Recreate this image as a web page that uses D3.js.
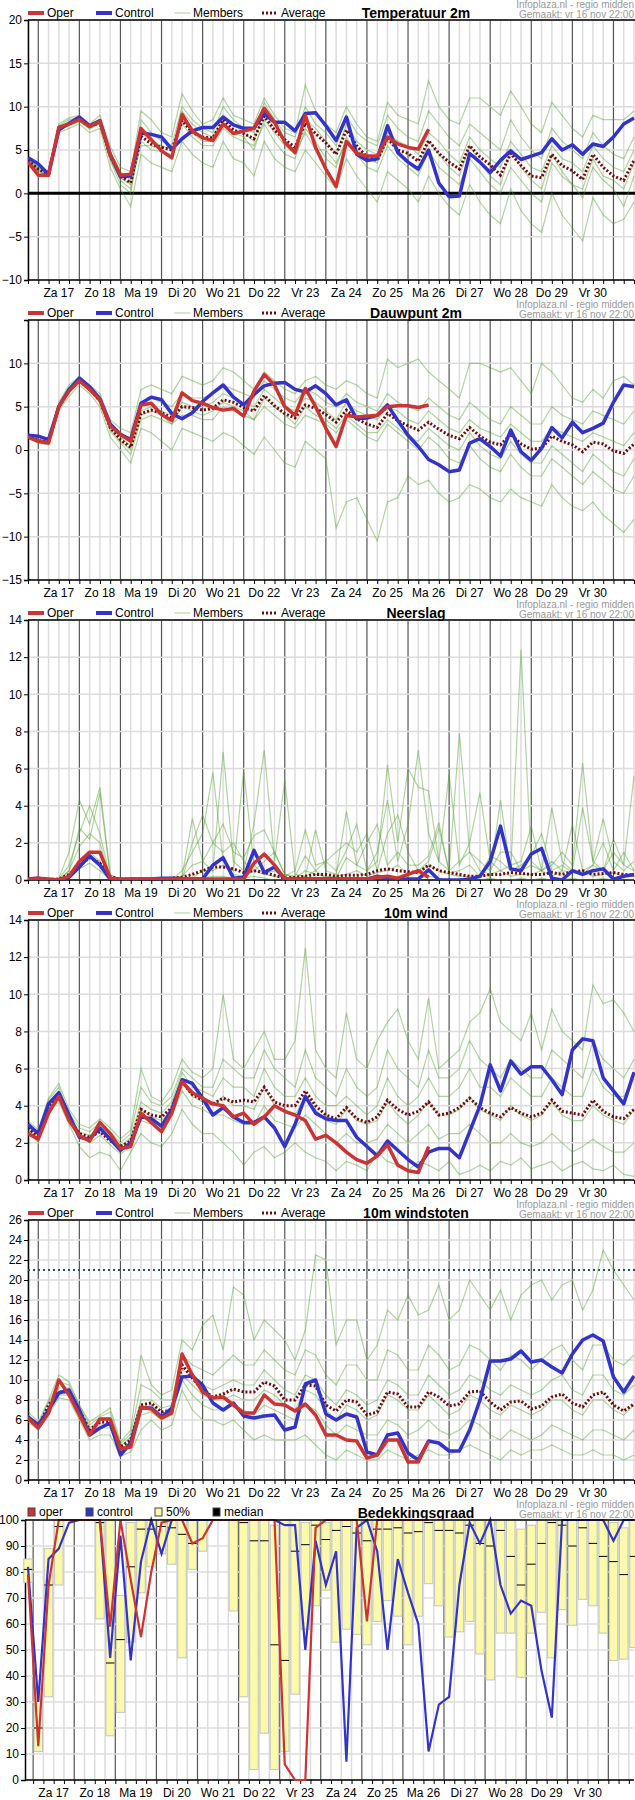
<!DOCTYPE html>
<html><head><meta charset="utf-8">
<script src="https://cdn.jsdelivr.net/npm/d3@7"></script>
<style>body{margin:0;background:#fff}svg{display:block;font-family:"Liberation Sans",Arial,sans-serif}</style>
</head><body><svg id="c" width="635" height="1800"></svg>
<script>
const days=["Za 17","Zo 18","Ma 19","Di 20","Wo 21","Do 22","Vr 23","Za 24","Zo 25","Ma 26","Di 27","Wo 28","Do 29","Vr 30"];
const titles=["Temperatuur 2m","Dauwpunt 2m","Neerslag","10m wind","10m windstoten","Bedekkingsgraad"];
const yDomains=[[-10,20],[-15,15],[0,14],[0,14],[0,26],[0,100]];
const yTicks=[[-10,-5,0,5,10,15,20],[-15,-10,-5,0,5,10],[0,2,4,6,8,10,12,14],[0,2,4,6,8,10,12,14],[0,2,4,6,8,10,12,14,16,18,20,22,24,26],[0,10,20,30,40,50,60,70,80,90,100]];

const tempOper=[3.6,2.1,2.1,7.6,8.0,8.5,7.7,8.3,4.5,2.1,2.2,7.5,6.2,4.9,4.1,9.1,7.2,6.4,6.1,8.0,6.9,7.2,7.5,9.8,8.2,5.9,4.7,9.0,5.3,2.8,0.8,6.0,4.6,4.3,4.3,6.5,5.7,5.3,5.1,7.4];
const tempControl=[4.1,3.4,2.2,7.3,8.1,8.8,7.8,8.4,4.5,1.9,2.0,7.0,6.8,6.5,5.1,6.3,7.2,7.6,7.6,8.8,7.9,7.5,7.5,9.2,8.2,8.2,7.2,9.2,9.3,7.8,6.1,8.8,4.5,3.8,4.0,7.8,4.7,3.6,2.8,5.0,1.2,-0.4,-0.3,4.6,3.6,2.4,3.8,4.9,3.9,4.3,4.7,6.3,5.0,5.6,4.5,5.7,5.4,6.5,8.0,8.7];
const tempAverage=[3.8,2.8,2.2,7.5,8.0,8.5,7.7,8.2,4.3,2.0,1.2,6.6,5.7,5.3,5.0,8.4,7.0,6.5,6.4,8.5,7.3,6.9,6.3,8.9,7.3,6.2,5.3,8.1,6.9,5.8,4.5,7.3,5.5,4.2,3.8,6.4,5.0,4.6,3.7,6.1,4.6,3.6,2.8,5.5,4.2,3.3,2.1,4.6,3.2,2.0,1.8,4.5,3.2,2.6,1.6,4.5,3.0,2.0,1.5,3.8];
const tempMembers=[
[4.0,3.0,2.3,8.0,8.7,9.0,8.0,9.0,5.5,3.0,2.5,9.5,8.5,7.0,6.5,11.5,9.5,8.0,8.5,11.0,9.0,8.5,8.0,11.0,9.0,7.5,7.0,12.5,9.5,8.0,7.0,10.0,8.0,6.5,6.0,10.5,9.0,8.5,8.0,13.0,10.0,8.5,8.0,11.0,11.0,10.0,9.0,11.8,10.0,8.0,7.0,10.5,9.0,7.5,6.5,9.0,8.5,8.5,8.5,9.5],
[3.5,2.5,1.9,7.0,7.5,8.0,7.0,7.5,3.0,0.5,-1.5,4.5,3.5,3.0,2.5,6.0,4.5,3.5,3.0,6.0,4.0,3.5,2.0,6.0,4.0,3.0,2.5,5.0,3.5,2.0,0.5,4.0,2.0,0.5,-1.0,2.5,1.5,0.5,-1.0,2.0,0.0,-1.5,-2.5,1.0,-1.0,-2.5,-3.5,0.5,-2.0,-3.5,-4.5,0.0,-2.5,-4.0,-5.5,-0.5,-2.5,-3.5,-3.0,-1.0],
[3.8,2.7,2.0,7.6,8.2,8.6,7.6,8.0,4.0,1.5,0.5,6.0,5.0,4.8,4.5,9.5,8.0,7.0,6.5,9.0,8.0,7.0,6.0,9.5,7.5,6.0,5.0,8.5,7.5,6.0,4.5,8.0,6.0,5.0,4.5,7.0,6.0,5.5,4.5,7.0,6.0,4.5,3.5,6.5,5.0,4.0,3.0,6.0,4.5,3.0,2.5,5.5,4.0,3.5,2.5,5.5,4.0,3.0,2.5,5.0],
[3.9,2.9,2.1,7.3,7.8,8.3,7.4,8.1,3.8,1.0,0.0,7.0,6.0,5.5,5.0,8.0,6.5,5.5,5.5,7.5,6.5,6.0,5.5,8.0,6.0,4.5,4.0,7.5,6.0,4.0,3.0,6.5,4.5,3.0,2.5,5.5,4.0,3.0,2.0,5.0,3.0,2.0,1.0,4.0,2.5,1.0,0.0,3.0,1.5,0.0,-1.0,3.5,2.0,1.0,-0.5,3.0,1.5,0.5,-1.5,2.0],
[3.7,2.6,2.0,7.8,8.5,8.8,7.9,8.4,4.8,2.5,1.5,8.5,7.0,6.0,5.5,10.0,8.5,7.5,7.0,10.0,8.5,7.5,7.0,10.5,8.5,7.0,6.5,10.0,8.0,7.0,5.5,9.0,7.0,6.0,5.5,9.0,7.5,6.5,6.0,9.5,8.0,6.5,5.5,8.0,7.0,6.0,5.0,8.5,6.5,5.0,4.0,7.5,6.0,5.0,4.0,7.0,5.5,4.5,4.0,6.5],
[3.6,2.8,2.2,7.5,8.0,8.4,7.7,8.2,4.2,1.8,1.0,5.5,5.5,5.0,4.0,8.5,7.0,6.0,6.0,8.0,7.0,6.5,5.0,8.5,7.0,5.5,4.5,7.0,5.0,5.0,3.5,6.0,5.0,4.0,3.5,6.0,5.0,3.5,2.5,6.0,4.5,3.0,2.0,5.5,3.5,2.0,1.0,5.0,3.0,1.5,0.5,4.5,2.5,1.0,0.5,4.0,2.0,1.5,0.5,3.5]];

const dewOper=[1.5,1.0,0.8,5.0,6.8,8.0,7.0,5.8,2.8,1.8,1.0,5.2,5.4,4.1,3.4,6.6,5.7,5.4,4.9,4.6,4.8,3.9,6.8,8.7,7.5,5.0,4.0,7.1,5.0,2.5,0.4,4.0,3.8,3.9,4.0,5.0,5.1,5.1,4.9,5.2];
const dewControl=[1.7,1.6,1.2,5.0,7.0,8.3,7.3,5.9,3.0,1.8,1.2,5.4,6.1,5.8,4.2,3.6,4.3,5.6,6.6,7.5,6.1,5.2,6.4,7.4,7.7,7.8,7.0,6.7,7.4,6.5,5.2,5.8,3.6,3.7,4.0,5.2,3.4,1.7,0.4,-1.1,-1.7,-2.5,-2.3,0.8,1.3,0.4,-0.7,2.3,-0.2,-1.2,0.2,2.6,1.4,3.2,2.0,2.5,3.1,5.5,7.5,7.3];
const dewAverage=[1.6,1.1,0.9,5.0,6.9,8.0,7.0,5.7,2.6,1.2,0.3,4.2,4.6,4.3,3.7,5.0,4.9,4.6,4.8,5.8,5.5,4.9,4.5,6.3,5.1,4.2,3.7,5.2,4.8,4.1,3.2,4.6,3.6,3.0,2.6,4.2,3.4,2.8,2.3,3.2,2.4,1.7,1.3,2.6,1.6,0.9,0.6,1.8,0.7,0.1,0.2,1.6,1.0,0.6,-0.2,0.9,0.7,-0.1,-0.4,0.7];
const dewMembers=[
[1.8,1.5,1.2,5.5,7.5,8.5,7.5,6.5,3.5,2.5,2.0,7.0,7.5,7.0,6.5,8.5,8.0,7.5,8.0,9.5,9.0,8.0,7.0,9.0,8.0,7.0,6.5,8.0,8.5,7.5,7.0,8.0,7.5,6.5,6.0,10.5,9.5,10.0,10.5,9.0,8.0,7.0,6.0,10.0,10.0,9.5,9.0,9.5,8.0,6.5,10.0,9.0,7.5,6.0,5.5,7.0,6.0,8.0,8.5,7.5],
[1.4,0.8,0.6,4.5,6.2,7.5,6.5,5.0,1.5,0.0,-1.5,2.5,2.0,1.0,0.0,2.5,2.0,1.5,1.0,2.0,1.5,0.5,-0.5,1.5,0.0,-1.5,-2.0,1.0,0.0,-1.0,-9.0,-6.0,-5.5,-8.0,-10.5,-6.0,-5.5,-3.0,-4.0,-3.5,-5.0,-6.0,-5.5,-4.0,-4.5,-5.5,-6.0,-4.5,-5.5,-6.0,-6.5,-4.0,-5.5,-6.5,-7.0,-6.0,-7.5,-8.5,-9.5,-8.0],
[1.6,1.2,0.9,5.0,7.0,8.2,7.2,6.0,2.8,1.5,0.5,4.5,5.0,4.5,4.0,5.5,5.0,5.0,5.5,6.5,6.0,5.5,5.0,7.0,6.0,5.0,4.5,6.0,5.5,4.5,3.5,5.5,4.5,4.0,3.5,5.0,4.5,3.5,3.0,4.5,3.5,2.5,2.0,3.5,2.5,2.0,1.5,3.0,2.0,1.0,1.0,2.5,2.0,1.5,1.0,2.0,1.5,1.0,0.5,2.0],
[1.5,1.0,0.8,4.8,6.8,7.8,6.8,5.5,2.2,0.8,-0.5,3.5,4.0,3.5,3.0,4.0,4.0,3.5,3.5,5.0,4.5,4.0,3.5,5.0,4.0,3.0,2.5,4.0,3.5,3.0,2.0,3.5,2.5,1.5,1.0,3.0,2.0,1.0,0.0,1.5,0.5,-1.0,-1.5,0.5,-1.0,-2.0,-2.5,-0.5,-2.0,-3.0,-3.0,-1.0,-2.0,-3.0,-4.0,-2.5,-3.5,-4.5,-5.0,-3.0],
[1.7,1.3,1.0,5.2,7.2,8.3,7.1,6.2,3.2,2.0,1.0,5.5,6.0,5.5,5.0,6.5,6.0,6.0,6.5,7.5,7.0,6.5,6.0,8.0,7.0,6.0,5.5,7.0,6.5,5.5,5.0,6.5,5.5,5.0,4.5,6.5,5.5,5.0,4.5,6.0,5.0,4.0,3.5,5.5,4.5,3.5,3.0,5.0,4.0,3.0,3.0,5.0,4.0,3.5,3.0,4.5,4.0,3.5,3.0,4.5],
[1.5,1.1,0.8,4.9,6.9,8.0,7.0,5.6,2.5,1.0,0.0,4.0,4.5,4.0,3.0,5.0,4.5,4.0,4.5,5.5,5.0,4.5,3.5,6.0,5.0,4.0,3.0,5.0,4.0,3.5,2.5,4.0,3.0,2.0,2.0,3.5,2.5,1.5,1.0,2.5,1.5,0.5,0.0,2.0,0.5,-0.5,-1.0,1.0,-0.5,-1.5,-1.5,0.5,-0.5,-1.5,-2.5,-0.5,-1.5,-2.5,-3.0,-1.0]];

const rainOper=[0.05,0.1,0.05,0.0,0.2,1.0,1.5,1.5,0.1,0.05,0.05,0.05,0.05,0.05,0.05,0.05,0.05,0.05,0.05,0.05,0.05,0.05,0.9,1.4,0.8,0.05,0.05,0.05,0.05,0.05,0.05,0.05,0.05,0.05,0.15,0.2,0.1,0.3,0.5,0.15];
const rainControl=[0.05,0.1,0.0,0.0,0.15,0.7,1.3,0.8,0.05,0.0,0.05,0.05,0.05,0.1,0.1,0.05,0.05,0.05,0.8,1.2,0.1,0.15,1.6,0.4,0.7,0.05,0.05,0.05,0.05,0.05,0.05,0.05,0.05,0.05,0.2,0.1,0.05,0.05,0.05,0.55,0.0,0.0,0.0,0.05,0.2,1.0,2.9,0.6,0.5,1.4,1.7,0.1,0.0,0.5,0.3,0.5,0.6,0.05,0.2,0.3];
const rainAverage=[0.05,0.05,0.03,0.05,0.3,0.8,1.2,0.9,0.2,0.05,0.03,0.03,0.03,0.05,0.1,0.15,0.3,0.5,0.7,0.7,0.6,0.4,0.5,0.4,0.25,0.1,0.15,0.2,0.3,0.3,0.2,0.25,0.25,0.3,0.5,0.6,0.5,0.45,0.4,0.8,0.5,0.4,0.3,0.2,0.2,0.3,0.3,0.4,0.35,0.3,0.3,0.4,0.3,0.45,0.5,0.3,0.35,0.4,0.3,0.25];
const rainMembers=[
[0,0.1,0,0.1,1.5,4.3,3.0,5.0,0.3,0,0,0,0,0,0.1,0.2,3.3,1.0,0.5,6.9,1.0,0.5,3.0,7.0,1.0,5.4,0.3,0.2,2.7,0.5,0.3,3.7,0.8,0.5,1.0,6.2,2.0,6.0,5.0,4.8,1.0,0.5,7.9,1.5,0.5,0.3,4.3,0.5,12.4,1.0,0.5,3.9,1.0,0.5,3.9,1.0,0.5,2.2,0.8,5.6],
[0,0.05,0,0.05,0.8,2.5,4.0,2.5,0.1,0,0,0,0,0,0,0.5,1.5,2.5,5.8,1.0,0.5,5.9,0.8,0.3,0.5,0.2,0.5,2.7,0.8,1.0,0.5,1.6,3.0,0.5,1.5,4.3,1.0,3.0,7.0,2.5,1.0,5.7,0.8,2.0,4.7,1.0,0.5,0.8,1.0,2.9,0.5,0.8,1.5,0.8,6.3,1.0,3.3,1.0,0.5,1.0],
[0,0,0,0,0.5,1.8,2.5,2.0,0.05,0,0,0,0,0,0,0.2,0.8,1.0,2.0,3.0,1.5,1.2,2.4,2.7,1.5,0.3,0.1,0.5,0.3,0.2,0.1,1.2,0.8,2.0,3.0,0.8,1.5,0.8,0.8,1.3,3.1,0.4,0.5,0.8,0.2,1.3,1.0,0.5,0.8,1.3,2.5,0.5,0.8,0.4,0.3,0.8,2.0,0.5,1.5,0.5],
[0,0,0,0,0.3,1.0,1.5,1.0,0.05,0,0,0,0,0,0,0,0.1,0.5,0.5,0.8,0.3,0.2,0.5,0.3,0.2,0.1,0.1,0.2,0.5,0.1,0.2,0.3,0.5,0.2,0.4,0.5,0.8,0.3,0.4,0.8,0.5,0.3,0.2,0.2,0.2,0.3,0.5,0.2,0.3,0.3,0.5,0.2,0.5,0.4,0.5,0.2,0.3,0.4,0.2,0.2],
[0,0,0,0.05,0.2,0.6,0.9,0.5,0,0,0,0,0,0,0,0,0,0.1,0.2,0.2,0.1,0.1,0.2,0.1,0,0,0,0,0,0,0,0,0.1,0,0.1,0.2,0.1,0,0.1,0.2,0.1,0,0,0,0,0.1,0,0,0.1,0,0.1,0,0,0.1,0,0,0.1,0,0,0],
[0,0,0,0,0.5,2.8,2.2,4.7,0.2,0,0,0,0,0,0,0,2.0,3.5,2.0,1.5,2.0,1.0,0.5,1.0,1.5,0.3,0.2,1.3,0.5,1.0,1.5,2.0,1.5,2.5,0.5,2.5,3.5,1.5,0.5,1.0,2.8,0.5,1.0,1.5,1.0,0.5,1.5,1.5,0.5,0.8,0.5,1.0,0.5,3.0,0.5,0.8,0.5,1.5,0.8,0.5]];

const windOper=[2.5,2.2,3.6,4.5,3.2,2.4,2.1,3.1,2.5,1.7,1.8,3.6,3.1,2.6,3.6,5.3,4.7,4.4,4.1,4.0,3.4,3.6,3.0,3.4,4.0,3.7,3.5,3.2,2.2,2.4,2.0,1.5,1.1,0.9,1.3,1.9,0.8,0.5,0.4,1.8];
const windControl=[3.0,2.5,4.1,4.7,3.5,2.3,2.2,2.8,2.2,1.6,2.0,3.4,3.3,2.9,3.8,5.4,5.2,4.4,3.5,3.9,3.4,3.1,3.1,3.4,2.8,1.8,3.0,4.5,3.6,3.3,3.2,3.2,2.3,1.8,1.3,2.1,1.6,1.1,0.7,1.5,1.7,1.7,1.2,2.6,4.0,6.2,4.8,6.4,5.7,6.1,6.1,5.4,4.6,7.0,7.6,7.5,5.5,4.8,4.1,5.8];
const windAverage=[2.8,2.3,4.0,4.5,3.3,2.5,2.3,2.6,2.1,1.8,2.1,3.8,3.5,3.4,3.9,5.3,4.6,4.3,4.1,4.4,4.2,4.3,4.2,5.0,4.2,4.0,4.0,4.8,4.0,3.5,3.3,3.9,3.3,3.1,3.4,4.3,3.8,3.5,3.7,4.2,3.5,3.6,3.9,4.4,3.9,3.6,3.4,3.9,3.6,3.4,3.6,4.3,3.7,3.6,3.5,4.3,3.7,3.4,3.3,3.8];
const windMembers=[
[3.2,2.7,4.4,5.2,3.8,3.0,2.8,3.3,2.8,2.2,2.7,6.0,4.5,4.2,5.0,6.5,5.8,5.5,6.0,10.0,6.5,6.0,7.0,8.0,6.5,6.5,7.5,12.5,7.0,6.0,5.5,9.0,6.5,6.0,7.5,8.5,9.2,7.5,6.5,9.8,6.0,6.5,7.0,8.5,9.0,10.3,8.5,8.0,7.5,9.0,7.0,9.2,8.0,7.5,7.0,10.5,9.5,9.7,9.0,8.0],
[2.6,2.0,3.8,4.2,3.0,1.8,1.2,1.5,1.3,0.5,1.5,2.5,2.0,1.8,2.5,3.8,3.0,2.5,2.5,2.0,1.5,0.8,1.5,1.8,1.2,1.5,2.0,1.5,1.2,1.0,0.5,1.0,0.8,0.5,1.5,1.0,0.8,0.5,1.0,0.8,0.5,1.0,0.3,0.5,0.8,0.5,1.0,0.8,1.2,0.6,0.8,1.0,0.5,0.8,1.0,0.6,0.5,0.8,0.3,0.2],
[2.9,2.4,4.1,4.6,3.4,2.6,2.4,2.9,2.3,1.8,2.3,4.2,3.8,3.6,4.2,5.8,5.0,4.8,4.5,5.5,5.0,5.0,4.5,6.0,5.0,4.5,4.5,5.5,4.5,4.0,4.0,4.5,4.0,3.5,4.0,5.5,4.5,4.0,4.5,5.5,4.5,4.5,5.0,6.0,5.0,5.0,4.5,5.5,5.0,4.5,4.5,5.5,5.0,4.5,4.5,6.0,5.0,4.5,4.5,5.5],
[2.7,2.2,3.9,4.4,3.2,2.3,2.0,2.4,1.9,1.4,1.8,3.2,3.0,2.8,3.5,4.8,4.0,3.8,3.5,3.5,3.2,3.0,3.0,4.0,3.2,3.0,2.8,3.5,3.0,2.5,2.0,2.5,2.0,2.0,2.2,3.0,2.5,2.0,2.5,3.0,2.2,2.5,2.5,3.0,2.5,2.0,2.0,2.5,2.0,1.8,2.0,2.5,2.0,1.5,1.8,2.2,1.8,1.5,1.5,2.0],
[3.0,2.5,4.3,5.0,3.6,2.8,2.6,3.1,2.6,2.0,2.5,5.0,4.2,4.0,4.5,6.0,5.5,5.0,5.0,6.5,6.0,5.5,5.5,7.0,6.0,5.5,5.0,7.0,5.5,5.0,4.5,6.0,5.0,4.5,5.0,7.0,6.0,5.5,5.0,7.0,5.5,5.5,6.0,7.5,6.5,6.0,5.5,6.5,6.0,5.5,5.5,7.0,6.5,6.0,5.5,7.5,6.5,6.0,5.5,6.5],
[2.8,2.3,4.0,4.5,3.3,2.4,2.2,2.7,2.1,1.6,2.0,3.8,3.4,3.2,3.8,5.2,4.5,4.2,4.0,4.5,4.0,4.0,3.8,5.0,4.0,3.8,3.5,4.5,3.8,3.2,3.0,3.8,3.2,3.0,3.2,4.2,3.5,3.0,3.5,4.2,3.5,3.5,3.8,4.5,3.8,3.5,3.2,4.0,3.5,3.2,3.5,4.2,3.5,3.2,3.2,4.0,3.5,3.2,3.0,3.8]];

const gustOper=[6.2,5.2,6.7,10.0,8.5,6.5,4.5,6.1,6.1,3.1,3.3,7.3,7.1,6.2,6.7,12.6,10.5,8.8,8.2,8.3,7.5,6.7,6.7,8.5,7.6,7.5,6.9,7.6,6.5,4.5,4.5,4.0,3.9,2.2,2.5,4.0,4.0,1.8,1.8,3.9];
const gustControl=[6.3,5.5,7.0,8.7,9.0,7.0,4.5,5.2,5.7,2.5,3.7,7.2,7.2,6.3,7.2,10.3,10.4,9.5,7.7,7.0,7.7,6.4,6.2,6.4,6.5,5.0,5.3,9.6,10.0,6.6,6.0,6.6,6.3,2.8,2.5,4.5,4.7,2.7,2.0,3.9,3.7,2.9,2.9,5.0,8.0,11.9,11.9,12.1,12.9,11.8,12.0,11.3,10.7,12.6,14.0,14.5,13.9,10.3,8.8,10.4];
const gustAverage=[6.3,5.3,7.5,8.8,8.8,7.0,5.0,5.8,5.8,3.3,4.0,7.5,7.7,6.8,7.0,11.5,10.2,9.0,8.3,8.6,9.1,8.8,8.8,9.8,9.4,8.0,8.0,9.5,9.4,7.5,6.9,8.0,7.8,6.5,6.8,8.8,8.6,7.3,7.3,8.8,8.3,7.4,7.6,8.8,8.9,7.8,7.0,7.8,7.9,7.1,7.4,8.3,8.6,7.7,7.3,8.5,8.8,7.5,6.9,7.6];
const gustMembers=[
[6.8,5.8,8.0,10.5,9.8,7.5,5.8,6.5,7.2,3.8,5.0,12.5,9.5,8.5,9.0,14.0,13.0,15.5,16.5,13.0,19.3,18.5,14.0,16.0,15.0,14.0,12.0,15.0,22.5,22.0,13.5,16.0,16.0,12.0,13.5,17.0,16.0,18.5,16.5,17.0,19.5,16.0,17.0,20.0,18.5,17.0,19.0,16.0,18.5,19.5,20.0,18.0,19.5,20.0,17.0,19.0,23.0,21.0,19.5,18.0],
[5.8,5.0,6.5,8.2,8.0,6.0,4.0,4.5,4.5,2.4,2.8,5.0,6.0,5.0,5.5,9.0,7.0,6.0,6.0,5.5,6.0,5.0,4.0,4.5,4.0,4.0,4.0,4.5,3.5,2.5,2.0,3.0,2.5,2.0,2.0,3.0,2.5,2.0,2.5,3.0,2.5,2.5,3.0,3.5,3.0,2.5,2.0,3.0,2.5,3.0,3.0,3.5,3.0,2.5,2.5,3.0,2.5,2.5,2.0,2.5],
[6.3,5.3,7.2,9.2,9.2,7.2,5.2,6.0,6.2,3.4,4.3,8.0,8.0,7.2,7.5,11.0,10.5,9.5,9.0,9.5,10.0,9.5,9.5,11.0,10.0,9.0,8.5,10.5,10.0,8.5,7.5,9.0,8.5,7.5,8.0,10.0,9.5,8.5,8.5,10.5,9.5,8.5,9.0,10.5,10.0,9.0,8.5,9.5,9.0,8.5,9.0,10.0,10.5,9.0,8.5,10.5,10.5,9.0,8.5,9.5],
[6.0,5.1,6.8,8.5,8.5,6.5,4.6,5.2,5.2,2.8,3.5,6.5,6.8,6.0,6.5,10.0,8.5,7.5,7.0,7.0,7.5,7.0,6.5,7.5,7.0,6.5,6.0,7.5,7.0,5.5,4.5,5.5,5.0,4.5,4.5,6.0,5.5,4.5,5.0,6.0,5.0,4.5,5.0,6.0,5.5,4.5,4.0,5.0,4.5,4.0,4.5,5.5,5.0,4.5,4.0,5.0,5.0,4.5,4.0,5.0],
[6.5,5.5,7.8,9.8,9.5,7.5,5.5,6.3,6.8,3.6,4.6,9.5,9.0,8.0,8.0,12.5,11.5,11.0,10.5,11.5,12.5,11.5,11.5,13.0,12.0,11.0,10.5,13.0,12.5,10.5,9.5,11.5,11.5,10.0,10.0,13.0,12.5,11.0,11.0,13.5,12.5,11.0,11.5,13.5,13.0,12.0,11.0,12.5,12.0,11.0,12.0,13.0,13.5,12.0,11.0,13.5,13.5,12.0,11.5,12.5],
[6.1,5.2,7.0,8.8,8.8,6.8,4.8,5.6,5.6,3.0,3.8,7.0,7.5,6.5,7.0,10.5,9.5,8.5,8.0,8.0,8.5,8.0,8.0,9.0,8.5,7.5,7.0,9.0,8.5,7.0,6.0,7.5,7.0,6.0,6.5,8.5,8.0,7.0,7.0,8.5,7.5,6.5,7.0,8.5,8.0,7.0,6.5,7.5,7.0,6.5,7.0,8.0,8.0,7.0,6.5,8.0,8.0,7.0,6.5,7.5]];
const gustWarning=21;

const cloudOper=[79,13,75,100,100,100,100,100,59,100,77,55,80,99,100,100,91,93,100,100,100,100,100,100,100,6,0,0,97,100,100,100,100,61,100,100,100,100,100,100];
const cloudControl=[82,30,85,89,99,100,100,100,47,94,46,84,100,87,100,100,100,100,100,100,100,100,100,100,100,98,98,50,92,75,88,7,97,100,88,50,85,72,60,11,29,32,75,99,91,100,75,64,69,67,42,24,100,100,100,100,100,92,100,100];
const cloudHigh=[85,35,89,100,100,100,100,100,100,71,99,100,100,100,100,100,100,100,100,100,100,100,100,100,98,100,100,99,100,99,100,100,100,100,100,100,100,100,100,100,100,100,100,100,100,100,100,100,96.5,98,100,100,100,100,100,100,100,99,97,100];
const cloudLow=[76,11,32,75,100,100,100,62,17,26,53,72,82,87,83,47,81,88,100,100,65,32,4,18,4,11,33,58,67,73,53,58,56,52,61,69,63,52,63,75.5,67,55,57,61,48.5,38.5,56.5,56.5,39.5,56.5,64.5,47,65.5,59.5,69.5,67,56.5,46,46.5,51];
const cloudMedian=[81,20,75,97.5,100,100,100,99,45,54,82,96.5,96.5,97.5,97,94.5,91,100,100,100,100,99,92,92,52,46,88,90.5,98,92.5,96,97.5,95,92,96.5,96.5,97,95,95.5,99,96,96,95,98,91,90,96,86,75,83,91,99,98,90,97,91,86,84,79,86];

const panels=[
 {oper:tempOper,control:tempControl,avg:tempAverage,members:tempMembers},
 {oper:dewOper,control:dewControl,avg:dewAverage,members:dewMembers},
 {oper:rainOper,control:rainControl,avg:rainAverage,members:rainMembers},
 {oper:windOper,control:windControl,avg:windAverage,members:windMembers},
 {oper:gustOper,control:gustControl,avg:gustAverage,members:gustMembers}];

const svg=d3.select("#c");
const N=60, RED="#cc3333", BLUE="#3333cc", GREEN="#4fa02c", AVG="#6e0a0a";

function frame(k,shift){
  const o=300*k, top=o+20, bot=o+280;
  const g=svg.append("g");
  const x=d3.scaleLinear().domain([0,N-1]).range([28,634]);
  const y=d3.scaleLinear().domain(yDomains[k]).range([bot,top]);
  const left=shift?25:28;
  const idx=d3.range(shift?0.5:0,N,1);
  const isDay=d=>((d-1+(shift?0.5:0))%4===0);
  g.selectAll(".vl").data(idx).join("line")
    .attr("x1",d=>x(d)).attr("x2",d=>x(d)).attr("y1",top).attr("y2",bot)
    .attr("stroke",d=>isDay(d)?"#555":"#dcdcdc").attr("stroke-width",d=>isDay(d)?1.2:1.5);
  g.selectAll(".hl").data(yTicks[k]).join("line")
    .attr("x1",left).attr("x2",634).attr("y1",d=>y(d)).attr("y2",d=>y(d))
    .attr("stroke","#dcdcdc").attr("stroke-width",1.5);
  const ya=g.append("g").attr("transform",`translate(${left},0)`)
    .call(d3.axisLeft(y).tickValues(yTicks[k]).tickSize(4).tickPadding(2).tickFormat(d3.format("d")));
  ya.select(".domain").attr("stroke","#000").attr("stroke-width",1.5);
  ya.selectAll("text").attr("font-size",12).attr("fill","#000").attr("font-family","Liberation Sans, Arial");
  const xa=g.append("g").attr("transform",`translate(0,${bot})`)
    .call(d3.axisBottom(x).tickValues(idx).tickSize(4).tickFormat(""));
  xa.select(".domain").attr("stroke","#000").attr("stroke-width",1.5).attr("d",`M${left},0H634`);
  g.selectAll(".dl").data(days).join("text")
    .attr("x",(d,i)=>x(3+4*i-(shift?0.5:0))).attr("y",o+297).attr("text-anchor","middle")
    .attr("font-size",12).text(d=>d);
  g.append("text").attr("x",416).attr("y",o+18).attr("text-anchor","middle").attr("font-size",14).attr("font-weight","bold").text(titles[k]);
  g.append("text").attr("x",634).attr("y",o+8).attr("text-anchor","end").attr("font-size",10).attr("fill","#999").text("Infoplaza.nl - regio midden");
  g.append("text").attr("x",634).attr("y",o+18).attr("text-anchor","end").attr("font-size",10).attr("fill","#999").text("Gemaakt: vr 16 nov 22:00");
  return {g,x,y,o,top,bot,left};
}

panels.forEach((p,k)=>{
  const {g,x,y,o,top,bot}=frame(k,false);
  const clip="clip"+k;
  svg.append("clipPath").attr("id",clip).append("rect").attr("x",28).attr("y",top).attr("width",607).attr("height",bot-top);
  const L=d3.line().x((d,i)=>x(i)).y(d=>y(d));
  const pg=g.append("g").attr("clip-path",`url(#${clip})`);
  if(k===0){pg.append("line").attr("x1",28).attr("x2",635).attr("y1",y(0)).attr("y2",y(0)).attr("stroke","#000").attr("stroke-width",3);}
  if(k===4){pg.append("line").attr("x1",28).attr("x2",635).attr("y1",y(gustWarning)).attr("y2",y(gustWarning)).attr("stroke","#1f5a5a").attr("stroke-width",2).attr("stroke-dasharray","2,3");}
  p.members.forEach(m=>pg.append("path").attr("d",L(m)).attr("fill","none").attr("stroke",GREEN).attr("stroke-opacity",0.45).attr("stroke-width",1.2));
  pg.append("path").attr("d",L(p.avg)).attr("fill","none").attr("stroke",AVG).attr("stroke-width",3).attr("stroke-dasharray","2,2");
  pg.append("path").attr("d",L(p.control)).attr("fill","none").attr("stroke",BLUE).attr("stroke-width",3.5).attr("stroke-linejoin","round");
  pg.append("path").attr("d",L(p.oper)).attr("fill","none").attr("stroke",RED).attr("stroke-width",3.5).attr("stroke-linejoin","round");
  g.append("line").attr("x1",28).attr("x2",635).attr("y1",top).attr("y2",top).attr("stroke","#000").attr("stroke-width",1.5);
  const ly=o+13;
  const lg=g.append("g").attr("font-size",12);
  lg.append("line").attr("x1",28).attr("x2",44).attr("y1",ly).attr("y2",ly).attr("stroke",RED).attr("stroke-width",4);
  lg.append("text").attr("x",47).attr("y",ly+4).text("Oper");
  lg.append("line").attr("x1",96).attr("x2",112).attr("y1",ly).attr("y2",ly).attr("stroke",BLUE).attr("stroke-width",4);
  lg.append("text").attr("x",115).attr("y",ly+4).text("Control");
  lg.append("line").attr("x1",174).attr("x2",190).attr("y1",ly).attr("y2",ly).attr("stroke",GREEN).attr("stroke-opacity",0.5).attr("stroke-width",1);
  lg.append("text").attr("x",193).attr("y",ly+4).text("Members");
  lg.append("line").attr("x1",262).attr("x2",278).attr("y1",ly).attr("y2",ly).attr("stroke",AVG).attr("stroke-width",3).attr("stroke-dasharray","2,2");
  lg.append("text").attr("x",281).attr("y",ly+4).text("Average");
});

{
  const {g,x,y,o,top,bot}=frame(5,true);
  const bw=8.5;
  const bars=d3.range(N);
  g.selectAll(".bar").data(bars).join("rect")
    .attr("x",i=>x(i)-bw/2).attr("width",bw)
    .attr("y",i=>y(cloudHigh[i])).attr("height",i=>Math.max(0,y(cloudLow[i])-y(cloudHigh[i])))
    .attr("fill","#fafaaa").attr("stroke","#c4c4c4").attr("stroke-width",1);
  g.selectAll(".med").data(bars.filter(i=>cloudHigh[i]-cloudLow[i]>0)).join("line")
    .attr("x1",i=>x(i)-bw/2).attr("x2",i=>x(i)+bw/2).attr("y1",i=>y(cloudMedian[i])).attr("y2",i=>y(cloudMedian[i]))
    .attr("stroke","#000").attr("stroke-width",1);
  const L=d3.line().x((d,i)=>x(i)).y(d=>y(d));
  g.append("path").attr("d",L(cloudControl)).attr("fill","none").attr("stroke",BLUE).attr("stroke-width",2.2);
  g.append("path").attr("d",L(cloudOper)).attr("fill","none").attr("stroke",RED).attr("stroke-width",2.2);
  g.append("line").attr("x1",25).attr("x2",635).attr("y1",top).attr("y2",top).attr("stroke","#000").attr("stroke-width",1.5);
  const ly=o+13, lg=g.append("g").attr("font-size",12);
  [["oper",RED,28],["control",BLUE,86],["50%","#fafaaa",155],["median","#000",213]].forEach(([t,c,lx])=>{
    lg.append("rect").attr("x",lx).attr("y",ly-5).attr("width",7).attr("height",8).attr("fill",c).attr("stroke","#444");
    lg.append("text").attr("x",lx+11).attr("y",ly+3).text(t);
  });
}
</script></body></html>
